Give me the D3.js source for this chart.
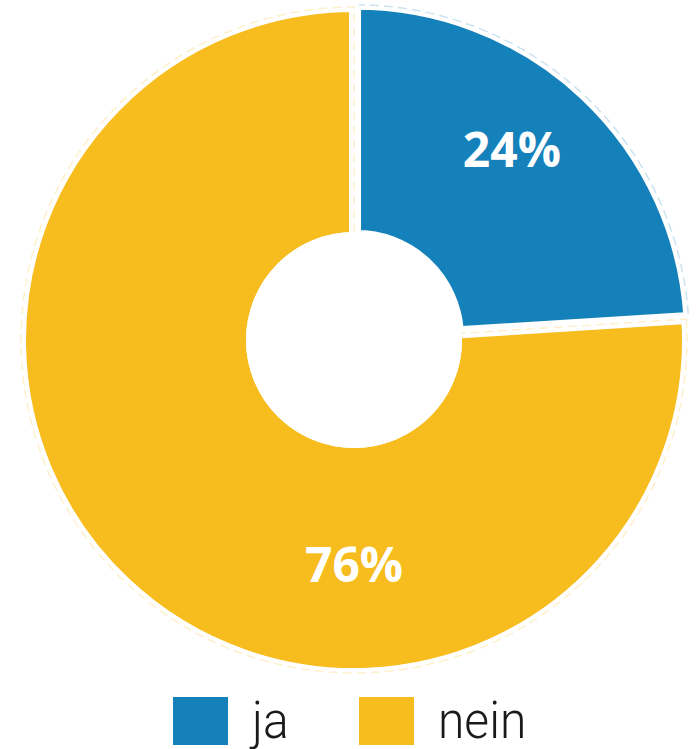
<!DOCTYPE html>
<html>
<head>
<meta charset="utf-8">
<script src="https://cdn.jsdelivr.net/npm/d3@7"></script>
<style>
  html, body { margin: 0; padding: 0; background: #fff; }
  svg { display: block; }
</style>
</head>
<body>
<div id="chart"></div>
<script>
  // data
  var categories = ['ja', 'nein'];
  var values = [24, 76];
  var colors = ['#1581BA', '#F7BC1E'];
  var labels = ['24%', '76%'];

  var width = 700, height = 749;
  var cx = 354, cy = 340;
  var outerR = 333, innerR = 103;

  var svg = d3.select('#chart').append('svg')
    .attr('width', width)
    .attr('height', height);

  var g = svg.append('g').attr('transform', 'translate(' + cx + ',' + cy + ')');

  var pie = d3.pie().sort(null).value(function (d) { return d; });
  var arcs = pie(values);

  var arc = d3.arc().innerRadius(innerR).outerRadius(outerR);

  // the small slice is pulled out a bit
  function offset(d, i) {
    if (i !== 0) return 'translate(0,0)';
    var a = (d.startAngle + d.endAngle) / 2;
    var k = 3;
    return 'translate(' + (Math.sin(a) * k) + ',' + (-Math.cos(a) * k) + ')';
  }

  var slices = g.selectAll('.slice')
    .data(arcs)
    .enter()
    .append('g')
    .attr('class', 'slice')
    .attr('transform', offset);

  slices.append('path')
    .attr('d', arc)
    .attr('fill', function (d, i) { return colors[i]; })
    .attr('stroke', '#fff')
    .attr('stroke-width', 10)
    .attr('stroke-linejoin', 'miter');

  // faint dashed outline
  slices.append('path')
    .attr('d', arc)
    .attr('fill', 'none')
    .attr('stroke', function (d, i) { return colors[i]; })
    .attr('stroke-opacity', 0.22)
    .attr('stroke-width', 1.5)
    .attr('stroke-dasharray', '9 5');

  // redraw the hole so no outline shows there
  g.append('circle')
    .attr('r', innerR + 5)
    .attr('fill', '#fff');

  function labelPos(d) {
    var span = d.endAngle - d.startAngle;
    var a = span > Math.PI ? Math.PI : d.startAngle + span * 0.46;
    var r = span > Math.PI ? 225 : 247;
    return [Math.sin(a) * r, -Math.cos(a) * r];
  }

  g.selectAll('.pct')
    .data(arcs)
    .enter()
    .append('text')
    .attr('class', 'pct')
    .attr('transform', function (d) { return 'translate(' + labelPos(d) + ')'; })
    .attr('text-anchor', 'middle')
    .attr('dy', '0.36em')
    .attr('fill', '#fff')
    .style('font-family', '"Open Sans", sans-serif')
    .style('font-weight', 700)
    .style('font-size', '48px')
    .text(function (d, i) { return labels[i]; });

  // legend
  var legendX = [173, 359];
  var legend = svg.selectAll('.legend')
    .data(categories)
    .enter()
    .append('g')
    .attr('class', 'legend')
    .attr('transform', function (d, i) { return 'translate(' + legendX[i] + ',697)'; });

  legend.append('rect')
    .attr('width', 55)
    .attr('height', 48)
    .attr('fill', function (d, i) { return colors[i]; });

  legend.append('text')
    .attr('transform', 'translate(79,41) scale(0.94,1)')
    .attr('fill', '#1a1a1a')
    .style('font-family', 'Roboto, sans-serif')
    .style('font-weight', 300)
    .style('font-size', '51px')
    .text(function (d) { return d; });
</script>
</body>
</html>
